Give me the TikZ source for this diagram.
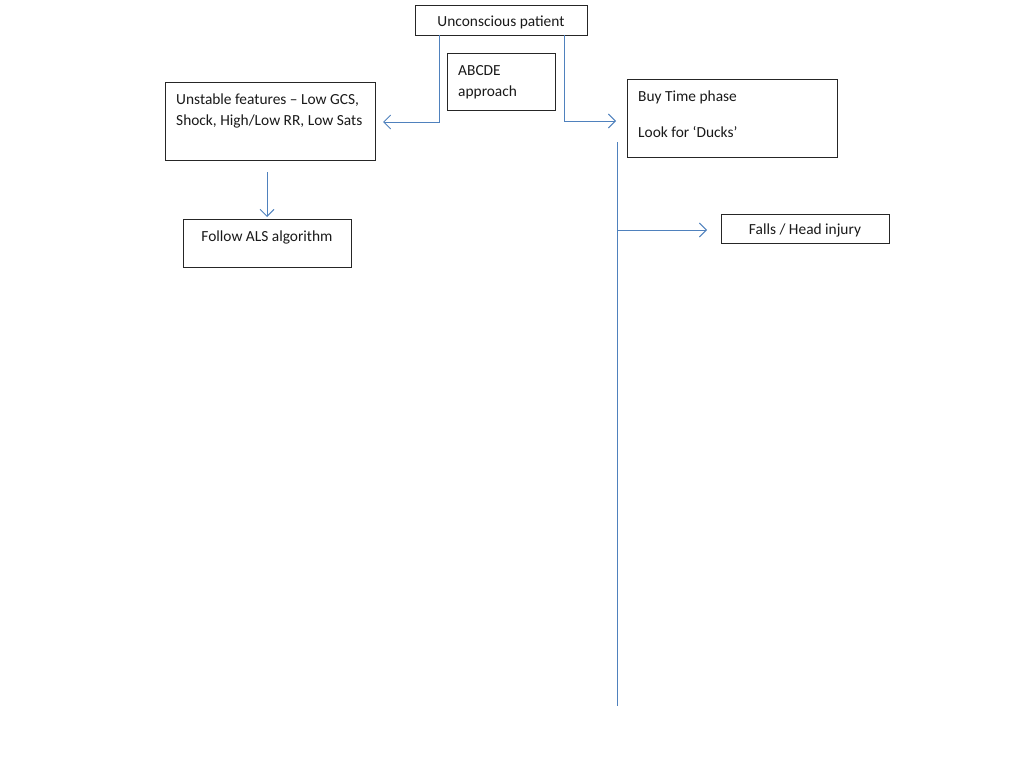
\documentclass[tikz,border=0pt]{standalone}
\usepackage{fontspec}
\setmainfont{Carlito}
\usetikzlibrary{arrows.meta}
\begin{document}
\begin{tikzpicture}[x=1pt,y=-1pt,
  box/.style={draw=black!85,line width=0.9pt,rectangle,inner sep=0pt,anchor=north west},
  txt/.style={font=\fontsize{15.4}{18}\selectfont,inner sep=0pt,text=black!90},
  conn/.style={draw={rgb,255:red,79;green,129;blue,189},line width=0.9pt,-{Straight Barb[length=7pt,width=14pt,line width=0.9pt]}},
  plain/.style={draw={rgb,255:red,79;green,129;blue,189},line width=0.9pt}]
\useasboundingbox (0,0) rectangle (1024,768);
% boxes
\node[box,minimum width=172pt,minimum height=30pt] (unc) at (415,5) {};
\node[box,minimum width=108pt,minimum height=57pt] (abc) at (447,53) {};
\node[box,minimum width=210pt,minimum height=78pt] (uns) at (165,82) {};
\node[box,minimum width=168pt,minimum height=48pt] (als) at (183,219) {};
\node[box,minimum width=210pt,minimum height=78pt] (buy) at (627,79) {};
\node[box,minimum width=168pt,minimum height=29pt] (fal) at (721,214) {};
% texts
\node[txt] (tunc) at (501,22) {Unconscious patient};
\node[txt,anchor=west] (tabc1) at (458,71) {ABCDE};
\node[txt,anchor=west] (tabc2) at (458,92) {approach};
\node[txt,anchor=west] (tuns1) at (176,100) {Unstable features – Low GCS,};
\node[txt,anchor=west] (tuns2) at (176,121) {Shock, High/Low RR, Low Sats};
\node[txt] (tals) at (267,237) {Follow ALS algorithm};
\node[txt,anchor=west] (tbuy1) at (638,97) {Buy Time phase};
\node[txt,anchor=west] (tbuy2) at (638,132) {Look for ‘Ducks’};
\node[txt] (tfal) at (805,230) {Falls / Head injury};
% connector coordinates
\coordinate (l0) at (439,35);
\coordinate (l1) at (439,122);
\coordinate (l2) at (383,122);
\coordinate (r0) at (564,35);
\coordinate (r1) at (564,121);
\coordinate (r2) at (616,121);
\coordinate (v0) at (617,142);
\coordinate (v1) at (617,706);
\coordinate (h0) at (617,230);
\coordinate (h1) at (707,230);
\coordinate (d0) at (267,172);
\coordinate (d1) at (267,217);
% connectors
\draw[conn] (l0) -- (l1) -- (l2);
\draw[conn] (r0) -- (r1) -- (r2);
\draw[plain] (v0) -- (v1);
\draw[conn] (h0) -- (h1);
\draw[conn] (d0) -- (d1);
\end{tikzpicture}
\end{document}
